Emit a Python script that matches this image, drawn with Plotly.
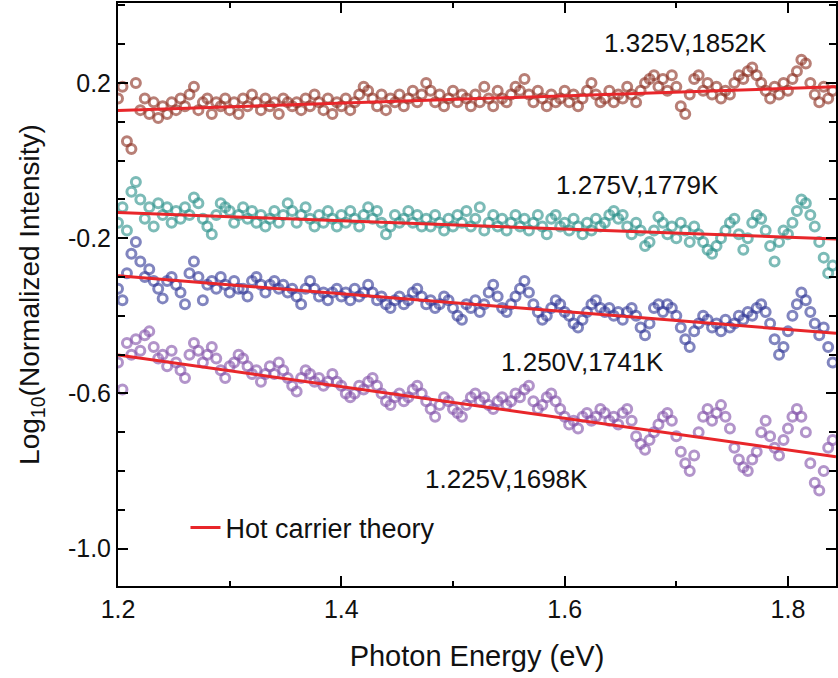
import plotly.graph_objects as go

# Photon energy grid (eV)
energy = [
    1.200, 1.204, 1.208, 1.212, 1.216, 1.220, 1.224, 1.228, 1.232, 1.236,
    1.240, 1.244, 1.248, 1.252, 1.256, 1.260, 1.264, 1.268, 1.272, 1.276,
    1.280, 1.284, 1.288, 1.292, 1.296, 1.300, 1.304, 1.308, 1.312, 1.316,
    1.320, 1.324, 1.328, 1.332, 1.336, 1.340, 1.344, 1.348, 1.352, 1.356,
    1.360, 1.364, 1.368, 1.372, 1.376, 1.380, 1.384, 1.388, 1.392, 1.396,
    1.400, 1.404, 1.408, 1.412, 1.416, 1.420, 1.424, 1.428, 1.432, 1.436,
    1.440, 1.444, 1.448, 1.452, 1.456, 1.460, 1.464, 1.468, 1.472, 1.476,
    1.480, 1.484, 1.488, 1.492, 1.496, 1.500, 1.504, 1.508, 1.512, 1.516,
    1.520, 1.524, 1.528, 1.532, 1.536, 1.540, 1.544, 1.548, 1.552, 1.556,
    1.560, 1.564, 1.568, 1.572, 1.576, 1.580, 1.584, 1.588, 1.592, 1.596,
    1.600, 1.604, 1.608, 1.612, 1.616, 1.620, 1.624, 1.628, 1.632, 1.636,
    1.640, 1.644, 1.648, 1.652, 1.656, 1.660, 1.664, 1.668, 1.672, 1.676,
    1.680, 1.684, 1.688, 1.692, 1.696, 1.700, 1.704, 1.708, 1.712, 1.716,
    1.720, 1.724, 1.728, 1.732, 1.736, 1.740, 1.744, 1.748, 1.752, 1.756,
    1.760, 1.764, 1.768, 1.772, 1.776, 1.780, 1.784, 1.788, 1.792, 1.796,
    1.800, 1.804, 1.808, 1.812, 1.816, 1.820, 1.824, 1.828, 1.832, 1.836,
    1.840,
]

# Log10(normalized intensity) for each bias
v1325 = [
    0.16, 0.19, 0.05, 0.03, 0.20, 0.13, 0.16, 0.12, 0.15, 0.11,
    0.14, 0.12, 0.15, 0.13, 0.16, 0.14, 0.17, 0.19, 0.13, 0.15,
    0.16, 0.12, 0.15, 0.14, 0.16, 0.13, 0.15, 0.12, 0.16, 0.14,
    0.17, 0.15, 0.13, 0.16, 0.14, 0.15, 0.12, 0.16, 0.15, 0.14,
    0.15, 0.13, 0.16, 0.14, 0.17, 0.15, 0.13, 0.16, 0.12, 0.15,
    0.14, 0.16, 0.13, 0.15, 0.17, 0.19, 0.18, 0.16, 0.14, 0.17,
    0.13, 0.16, 0.15, 0.17, 0.14, 0.16, 0.18, 0.15, 0.17, 0.20,
    0.18, 0.15, 0.17, 0.14, 0.16, 0.18, 0.15, 0.17, 0.16, 0.14,
    0.17, 0.15, 0.19, 0.16, 0.14, 0.18, 0.16, 0.15, 0.17, 0.19,
    0.18, 0.21, 0.17, 0.15, 0.18, 0.16, 0.14, 0.17, 0.15, 0.16,
    0.18, 0.15, 0.17, 0.14, 0.16, 0.18, 0.20, 0.17, 0.15, 0.16,
    0.18, 0.15, 0.17, 0.16, 0.19, 0.17, 0.15, 0.18, 0.20, 0.21,
    0.22, 0.19, 0.21, 0.18, 0.22, 0.19, 0.14, 0.12, 0.17, 0.21,
    0.22, 0.18, 0.20, 0.17, 0.19, 0.16, 0.18, 0.17, 0.20, 0.22,
    0.21, 0.23, 0.24, 0.22, 0.20, 0.18, 0.16, 0.19, 0.17, 0.20,
    0.18, 0.21, 0.23, 0.26, 0.25, 0.20, 0.17, 0.15, 0.19, 0.16,
    0.18,
]
v1275 = [
    -0.16, -0.12, -0.18, -0.08, -0.055, -0.10, -0.15, -0.12, -0.17, -0.11,
    -0.14, -0.12, -0.16, -0.13, -0.15, -0.12, -0.14, -0.095, -0.11, -0.15,
    -0.17, -0.19, -0.14, -0.11, -0.12, -0.13, -0.16, -0.14, -0.12, -0.15,
    -0.13, -0.16, -0.14, -0.17, -0.15, -0.13, -0.16, -0.14, -0.11, -0.13,
    -0.16, -0.14, -0.12, -0.15, -0.17, -0.14, -0.16, -0.13, -0.15, -0.17,
    -0.14, -0.16, -0.13, -0.15, -0.17, -0.14, -0.12, -0.15, -0.13, -0.16,
    -0.19, -0.17, -0.14, -0.16, -0.15, -0.13, -0.16, -0.14, -0.17, -0.15,
    -0.17, -0.14, -0.16, -0.18, -0.15, -0.17, -0.14, -0.16, -0.13, -0.17,
    -0.15, -0.12, -0.18, -0.16, -0.14, -0.17, -0.15, -0.18, -0.16, -0.14,
    -0.17, -0.15, -0.18, -0.16, -0.14, -0.17, -0.19, -0.15, -0.14, -0.17,
    -0.16, -0.18, -0.15, -0.17, -0.19, -0.16, -0.18, -0.15, -0.17, -0.16,
    -0.14, -0.13, -0.15, -0.14, -0.17, -0.19, -0.16, -0.18, -0.22, -0.21,
    -0.18, -0.145, -0.16, -0.19, -0.17, -0.20, -0.16, -0.18, -0.21, -0.17,
    -0.19, -0.21, -0.23, -0.24, -0.22, -0.20, -0.18, -0.16, -0.15, -0.19,
    -0.23, -0.20, -0.16, -0.14, -0.15, -0.18, -0.22, -0.26, -0.21, -0.18,
    -0.19, -0.16, -0.13, -0.10, -0.11, -0.14, -0.17, -0.21, -0.25, -0.29,
    -0.27,
]
v1250 = [
    -0.33, -0.36, -0.29, -0.24, -0.21, -0.26, -0.30, -0.28, -0.31, -0.33,
    -0.355, -0.31, -0.30, -0.32, -0.34, -0.37, -0.29, -0.26, -0.30, -0.36,
    -0.32, -0.31, -0.33, -0.30, -0.32, -0.34, -0.31, -0.33, -0.33, -0.35,
    -0.31, -0.30, -0.32, -0.34, -0.32, -0.31, -0.33, -0.32, -0.34, -0.33,
    -0.35, -0.37, -0.33, -0.31, -0.33, -0.35, -0.34, -0.36, -0.34, -0.33,
    -0.35, -0.34, -0.36, -0.33, -0.35, -0.34, -0.32, -0.34, -0.36, -0.35,
    -0.37, -0.38, -0.36, -0.35, -0.37, -0.36, -0.34, -0.33, -0.35, -0.37,
    -0.36, -0.38, -0.37, -0.35, -0.36, -0.38, -0.40, -0.41, -0.37, -0.38,
    -0.36, -0.39, -0.37, -0.34, -0.32, -0.35, -0.38, -0.39, -0.37, -0.35,
    -0.33, -0.31, -0.34, -0.37, -0.39, -0.41, -0.40, -0.38, -0.36, -0.37,
    -0.39, -0.40, -0.42, -0.43, -0.41, -0.39, -0.37, -0.36, -0.38, -0.39,
    -0.38, -0.40, -0.39, -0.41, -0.39, -0.38, -0.40, -0.43, -0.45, -0.42,
    -0.38, -0.37, -0.39, -0.37, -0.38, -0.40, -0.43, -0.46, -0.48, -0.44,
    -0.42, -0.40, -0.41, -0.43, -0.42, -0.44, -0.41, -0.43, -0.42, -0.40,
    -0.41, -0.39, -0.40, -0.38, -0.37, -0.39, -0.42, -0.46, -0.50, -0.48,
    -0.44, -0.40, -0.37, -0.34, -0.36, -0.39, -0.42, -0.45, -0.43, -0.48,
    -0.52,
]
v1225 = [
    -0.52, -0.59, -0.47, -0.50, -0.46, -0.49, -0.45, -0.44, -0.48, -0.51,
    -0.50, -0.53, -0.49, -0.52, -0.54, -0.56, -0.50, -0.47, -0.49, -0.52,
    -0.50, -0.48, -0.51, -0.54, -0.56, -0.53, -0.52, -0.50, -0.51, -0.53,
    -0.55, -0.54, -0.57, -0.55, -0.53, -0.55, -0.52, -0.54, -0.56, -0.58,
    -0.595, -0.56, -0.54, -0.55, -0.57, -0.56, -0.58, -0.57, -0.55, -0.57,
    -0.58, -0.60, -0.61, -0.60, -0.58, -0.59, -0.57, -0.56, -0.58, -0.60,
    -0.62, -0.63, -0.61, -0.60, -0.62, -0.61, -0.59, -0.58, -0.60, -0.62,
    -0.64, -0.66, -0.63, -0.61, -0.62, -0.64, -0.65, -0.66, -0.63, -0.61,
    -0.60, -0.62, -0.61, -0.63, -0.64, -0.62, -0.61, -0.63, -0.62, -0.60,
    -0.61, -0.59, -0.58, -0.62, -0.64, -0.63, -0.61, -0.60, -0.62, -0.64,
    -0.66, -0.68, -0.67, -0.69, -0.66, -0.65, -0.67, -0.66, -0.64, -0.65,
    -0.67, -0.66, -0.68, -0.65, -0.64, -0.67, -0.71, -0.73, -0.745, -0.72,
    -0.70, -0.68, -0.66, -0.65, -0.67, -0.71, -0.75, -0.78, -0.80, -0.76,
    -0.70, -0.66, -0.64, -0.67, -0.65, -0.63, -0.66, -0.69, -0.74, -0.77,
    -0.79, -0.80, -0.77, -0.75, -0.70, -0.67, -0.71, -0.74, -0.76, -0.72,
    -0.69, -0.66, -0.64, -0.66, -0.70, -0.78, -0.83, -0.85, -0.80, -0.74,
    -0.72,
]

# Hot carrier theory lines (end points)
theory_energy = [1.2, 1.843]
theory_1325 = [0.129, 0.190]
theory_1275 = [-0.134, -0.202]
theory_1250 = [-0.297, -0.445]
theory_1225 = [-0.501, -0.763]

series_labels = ["1.325V,1852K", "1.275V,1779K", "1.250V,1741K", "1.225V,1698K"]
label_x = [1.708, 1.665, 1.616, 1.548]
label_y = [0.303, -0.063, -0.519, -0.821]

colors = ["rgba(140,48,34,0.62)", "rgba(44,146,139,0.62)",
          "rgba(52,58,152,0.62)", "rgba(130,82,170,0.62)"]
data_series = [v1325, v1275, v1250, v1225]
theory_series = [theory_1325, theory_1275, theory_1250, theory_1225]

FONT = "Liberation Sans, Arial, sans-serif"

fig = go.Figure()
for vals, col, lab in zip(data_series, colors, series_labels):
    fig.add_trace(go.Scatter(
        x=energy, y=vals, mode="markers", name=lab, showlegend=False,
        marker=dict(symbol="circle-open", size=9, color=col,
                    line=dict(width=3, color=col)),
    ))
for i, th in enumerate(theory_series):
    fig.add_trace(go.Scatter(
        x=theory_energy, y=th, mode="lines", name="Hot carrier theory",
        legendgroup="theory", showlegend=(i == 0),
        line=dict(color="#E8262A", width=3),
    ))

for lab, lx, ly in zip(series_labels, label_x, label_y):
    fig.add_annotation(x=lx, y=ly, text=lab, showarrow=False,
                       font=dict(family=FONT, size=26, color="#111"),
                       xanchor="center", yanchor="middle")

axis_common = dict(
    showline=True, linecolor="black", linewidth=2, mirror="ticks",
    ticks="inside", ticklen=10, tickwidth=2, tickcolor="black",
    showgrid=False, zeroline=False,
    tickfont=dict(family=FONT, size=25, color="#111"),
)

fig.update_xaxes(
    range=[1.2, 1.843], tickvals=[1.2, 1.4, 1.6, 1.8],
    ticktext=["1.2", "1.4", "1.6", "1.8"],
    minor=dict(dtick=0.1, tick0=1.2, ticks="inside", ticklen=5, tickwidth=2,
               tickcolor="black", showgrid=False),
    title=dict(text="Photon Energy (eV)", font=dict(family=FONT, size=29, color="#111"),
               standoff=24),
    **axis_common,
)
fig.update_yaxes(
    range=[-1.096, 0.406],
    tickvals=[-1.0, -0.6, -0.2, 0.2],
    ticktext=["-1.0", "-0.6", "-0.2", "0.2"],
    minor=dict(dtick=0.1, tick0=0.0, ticks="inside", ticklen=7, tickwidth=2,
               tickcolor="black", showgrid=False),
    title=dict(text="Log<sub>10</sub>(Normalized Intensity)",
               font=dict(family=FONT, size=28, color="#111"), standoff=20),
    **axis_common,
)

fig.update_layout(
    width=838, height=678,
    margin=dict(l=118, r=0, t=3, b=92),
    paper_bgcolor="white", plot_bgcolor="white",
    legend=dict(x=0.094, y=0.0995, xanchor="left", yanchor="middle",
                bgcolor="rgba(0,0,0,0)", font=dict(family=FONT, size=27, color="#111")),
)

fig.write_html("out.html")
